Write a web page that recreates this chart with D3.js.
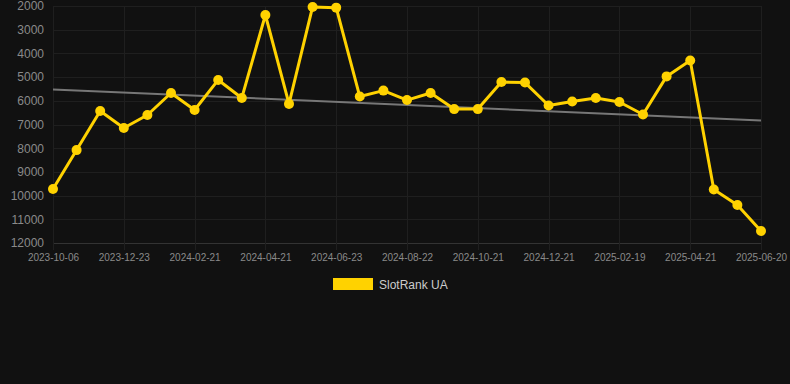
<!DOCTYPE html>
<html><head><meta charset="utf-8">
<script src="https://cdn.jsdelivr.net/npm/d3@7"></script>
<style>
html,body{margin:0;padding:0;background:#111111;}
svg{display:block;font-family:"Liberation Sans",Arial,sans-serif;}
</style></head>
<body>
<svg id="chart" width="790" height="384"></svg>
<script>
const dates = ["2023-10-06","2023-10-31","2023-11-27","2023-12-23","2024-01-14","2024-02-01","2024-02-21","2024-03-11","2024-04-01","2024-04-21","2024-05-12","2024-06-02","2024-06-23","2024-07-13","2024-08-02","2024-08-22","2024-09-11","2024-10-01","2024-10-21","2024-11-10","2024-12-01","2024-12-21","2025-01-10","2025-01-30","2025-02-19","2025-03-11","2025-04-01","2025-04-21","2025-05-11","2025-05-31","2025-06-20"];
const ranks = [9720,8080,6430,7150,6600,5670,6390,5120,5880,2380,6130,2040,2070,5820,5570,5970,5670,6350,6350,5210,5230,6200,6030,5880,6050,6580,4970,4300,9740,10400,11490];
const trendEnds = [5520,6830];
const yTicks = [2000,3000,4000,5000,6000,7000,8000,9000,10000,11000,12000];
const seriesName = "SlotRank UA";

const svg = d3.select("#chart");
const pLeft = 53, pRight = 761, pTop = 6, pBottom = 243;
const x = d3.scalePoint().domain(dates).range([pLeft, pRight]);
const y = d3.scaleLinear().domain([2000,12000]).range([pTop, pBottom]);
const shown = dates.filter((d,i)=>i%3===0);

// gridlines horizontal
svg.append("g").selectAll("line").data(yTicks).join("line")
  .attr("x1", pLeft).attr("x2", pRight)
  .attr("y1", d=>Math.round(y(d))+0.5).attr("y2", d=>Math.round(y(d))+0.5)
  .attr("stroke", d=>d===12000?"#333":"#1f1f1f").attr("stroke-width",1);
// vertical gridlines
svg.append("g").selectAll("line").data(shown).join("line")
  .attr("x1", d=>Math.round(x(d))+0.5).attr("x2", d=>Math.round(x(d))+0.5)
  .attr("y1", pTop).attr("y2", pBottom+7)
  .attr("stroke", "#1f1f1f").attr("stroke-width",1);

// y axis
const yAxis = d3.axisLeft(y).tickValues(yTicks).tickSize(0).tickPadding(9).tickFormat(d3.format("d"));
const gy = svg.append("g").attr("transform",`translate(${pLeft},0)`).call(yAxis);
gy.select(".domain").remove();
gy.selectAll("text").attr("fill","#8a8a8a").style("font-size","12px");

// x axis
const xAxis = d3.axisBottom(x).tickValues(shown).tickSize(0).tickPadding(11);
const gx = svg.append("g").attr("transform",`translate(0,${pBottom})`).call(xAxis);
gx.select(".domain").remove();
gx.selectAll("text").attr("fill","#8a8a8a").style("font-size","10px");

// trend line
svg.append("line")
  .attr("x1", x(dates[0])).attr("y1", y(trendEnds[0]))
  .attr("x2", x(dates[dates.length-1])).attr("y2", y(trendEnds[1]))
  .attr("stroke","#777").attr("stroke-width",2);

// series line
const data = dates.map((d,i)=>({d, v:ranks[i]}));
svg.append("path").datum(data)
  .attr("fill","none").attr("stroke","#FFD200").attr("stroke-width",3)
  .attr("stroke-linejoin","round")
  .attr("d", d3.line().x(p=>x(p.d)).y(p=>y(p.v)));
svg.append("g").selectAll("circle").data(data).join("circle")
  .attr("cx", p=>x(p.d)).attr("cy", p=>y(p.v)).attr("r",5)
  .attr("fill","#FFD200");

// legend
const lg = svg.append("g");
lg.append("rect").attr("x",333).attr("y",278).attr("width",40).attr("height",12).attr("fill","#FFD200");
lg.append("text").attr("x",379).attr("y",288.5).attr("fill","#cccccc").style("font-size","12px").text(seriesName);
</script>
</body></html>
